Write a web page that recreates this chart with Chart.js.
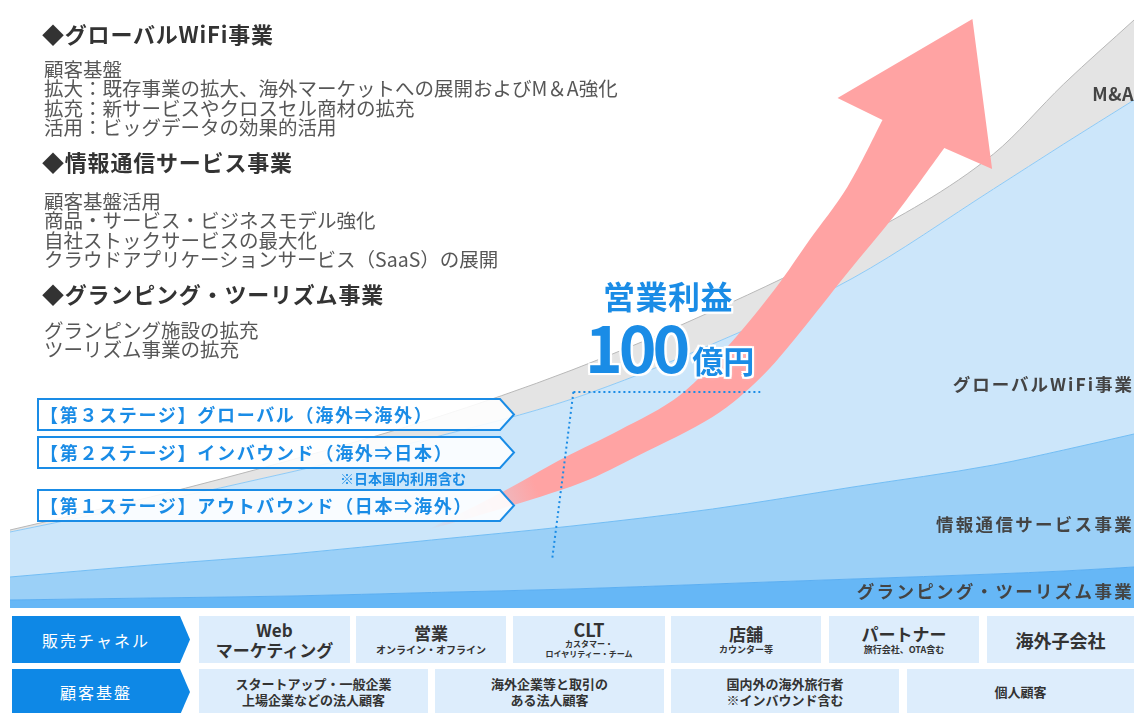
<!DOCTYPE html>
<html lang="ja">
<head>
<meta charset="utf-8">
<script src="https://cdn.jsdelivr.net/npm/chart.js@4.4.0/dist/chart.umd.min.js"></script>
<style>
  body { margin:0; width:1134px; height:713px; position:relative; overflow:hidden; background:#fff;
         font-family:"Noto Sans CJK JP","Noto Sans",sans-serif; }
  #chart-wrap { position:absolute; left:10px; top:0; width:1124px; height:608px; }
  .abs { position:absolute; white-space:nowrap; }
  .head { font-size:22px; font-weight:bold; color:#333; letter-spacing:0.8px; line-height:24px; left:42px; }
  .txt { font-size:19.5px; color:#575757; line-height:19.3px; left:44px; }
  .lab { font-size:17.5px; font-weight:bold; color:#444; letter-spacing:2.3px; line-height:20px; right:0; }
  .stage { left:37px; width:480px; height:33px; }
  .stage svg { position:absolute; left:0; top:0; }
  .stage span { position:absolute; left:3px; top:0; line-height:33px; font-size:18px; font-weight:bold;
                color:#1a8ce6; letter-spacing:1.7px; }
  .halo { text-shadow: 2px 0 0 #fff, -2px 0 0 #fff, 0 2px 0 #fff, 0 -2px 0 #fff,
          2px 2px 0 #fff, -2px -2px 0 #fff, 2px -2px 0 #fff, -2px 2px 0 #fff, 0 0 4px #fff; }
  .hdr { position:absolute; left:12px; width:180px; background:#0e88e6; color:#fff; font-size:16px;
         letter-spacing:2px; display:flex; align-items:center; justify-content:center; padding-right:12px;
         box-sizing:border-box; clip-path:polygon(0 0, 168px 0, 178px 50%, 168px 100%, 0 100%); }
  .cell { position:absolute; background:#ddedfc; color:#333; font-weight:bold; display:flex;
          flex-direction:column; align-items:center; justify-content:center; text-align:center; }
  .m { font-size:17px; line-height:20px; }
  .s { font-size:9px; line-height:11px; }
  .r2 { font-size:13px; line-height:16px; }
</style>
</head>
<body>
<div id="chart-wrap"><canvas id="growth"></canvas></div>

<!-- left side texts -->
<div class="abs head" style="top:21px">◆グローバルWiFi事業</div>
<div class="abs txt" style="top:59px">顧客基盤<br>拡大：既存事業の拡大、海外マーケットへの展開およびM＆A強化<br>拡充：新サービスやクロスセル商材の拡充<br>活用：ビッグデータの効果的活用</div>
<div class="abs head" style="top:149px">◆情報通信サービス事業</div>
<div class="abs txt" style="top:191px">顧客基盤活用<br>商品・サービス・ビジネスモデル強化<br>自社ストックサービスの最大化<br>クラウドアプリケーションサービス（SaaS）の展開</div>
<div class="abs head" style="top:281px">◆グランピング・ツーリズム事業</div>
<div class="abs txt" style="top:320px">グランピング施設の拡充<br>ツーリズム事業の拡充</div>

<!-- stage boxes -->
<div class="abs stage" style="top:398px"><svg width="480" height="33"><polygon points="1,1 463,1 477,16.5 463,32 1,32" fill="rgba(255,255,255,0.88)" stroke="#1a8ce6" stroke-width="2"/></svg><span>【第３ステージ】グローバル（海外⇒海外）</span></div>
<div class="abs stage" style="top:436px"><svg width="480" height="33"><polygon points="1,1 463,1 477,16.5 463,32 1,32" fill="rgba(255,255,255,0.88)" stroke="#1a8ce6" stroke-width="2"/></svg><span>【第２ステージ】インバウンド（海外⇒日本）</span></div>
<div class="abs" style="left:340px;top:469px;font-size:14px;font-weight:bold;color:#1a8ce6;line-height:18px">※日本国内利用含む</div>
<div class="abs stage" style="top:489px"><svg width="480" height="33"><polygon points="1,1 463,1 477,16.5 463,32 1,32" fill="rgba(255,255,255,0.88)" stroke="#1a8ce6" stroke-width="2"/></svg><span>【第１ステージ】アウトバウンド（日本⇒海外）</span></div>

<!-- profit target -->
<div class="abs halo" style="left:603px;top:278px;font-size:32px;font-weight:bold;color:#1a8ce6;line-height:34px;letter-spacing:0.5px">営業利益</div>
<div class="abs halo" style="left:585px;top:313px;line-height:64px;color:#1a8ce6;font-weight:bold"><span style="font-size:64px;letter-spacing:-4px">100</span><span style="font-size:31px;margin-left:6px">億円</span></div>

<!-- right labels -->
<div class="abs lab" style="top:83px;font-size:18px;letter-spacing:0.5px">M&amp;A</div>
<div class="abs lab" style="top:374px;letter-spacing:2px">グローバルWiFi事業</div>
<div class="abs lab" style="top:514px">情報通信サービス事業</div>
<div class="abs lab" style="top:581px">グランピング・ツーリズム事業</div>

<!-- bottom table -->
<div class="hdr" style="top:616px;height:47px">販売チャネル</div>
<div class="cell" style="left:199px;top:616px;width:151px;height:47px"><div class="m">Web</div><div class="m">マーケティング</div></div>
<div class="cell" style="left:356px;top:616px;width:150px;height:47px"><div class="m">営業</div><div style="font-size:10px;line-height:13px">オンライン・オフライン</div></div>
<div class="cell" style="left:513px;top:616px;width:152px;height:47px"><div class="m" style="font-size:18px;line-height:19px">CLT</div><div style="font-size:8px;line-height:10px">カスタマー・<br>ロイヤリティー・チーム</div></div>
<div class="cell" style="left:671px;top:616px;width:150px;height:47px"><div class="m">店舗</div><div class="s">カウンター等</div></div>
<div class="cell" style="left:829px;top:616px;width:150px;height:47px"><div class="m">パートナー</div><div class="s">旅行会社、OTA含む</div></div>
<div class="cell" style="left:987px;top:616px;width:147px;height:47px"><div class="m" style="font-size:18px">海外子会社</div></div>

<div class="hdr" style="top:669px;height:46px">顧客基盤</div>
<div class="cell" style="left:199px;top:669px;width:229px;height:46px"><div class="r2">スタートアップ・一般企業<br>上場企業などの法人顧客</div></div>
<div class="cell" style="left:435px;top:669px;width:229px;height:46px"><div class="r2">海外企業等と取引の<br>ある法人顧客</div></div>
<div class="cell" style="left:671px;top:669px;width:228px;height:46px"><div class="r2">国内外の海外旅行者<br>※インバウンド含む</div></div>
<div class="cell" style="left:907px;top:669px;width:227px;height:46px"><div class="r2">個人顧客</div></div>

<script>
// --- DATA (stacked layer thickness per step) ---
const steps = [0, 1, 2, 3, 4, 5, 6, 7, 7.5, 8];
const glamping = [8, 10, 12, 15.5, 19, 24, 29, 34, 37, 41];
const ictService = [23, 33, 42, 52.5, 63, 75, 92, 109, 121, 133];
const globalWifi = [45, 62, 82, 102, 127, 165, 209, 276, 306, 334];
const mAndA = [2, 6, 12, 19, 29, 33, 36, 35, 60, 80];
const seriesNames = ['グランピング・ツーリズム事業', '情報通信サービス事業', 'グローバルWiFi事業', 'M&A'];

// growth arrow outline, in step / value units
const arrowOutline = [
  [2.97, 78], [3.49, 99], [4.06, 125], [4.48, 153], [5.00, 191], [5.34, 230], [5.62, 275],
  [5.96, 335], [6.31, 395], [6.65, 460]
];
const arrowHead = [[6.99, 439], [6.85, 589], [5.89, 510], [6.21, 488]];
const arrowBack = [
  [6.21, 488], [5.96, 421], [5.69, 368], [5.45, 320], [5.13, 265], [4.77, 213], [4.34, 178],
  [3.94, 150], [3.49, 115], [2.97, 78]
];
// target guide (dotted)
const guideH = [[4.01, 216], [5.34, 216]];
const guideV = [[4.01, 216], [3.86, 50]];

const toPts = arr => steps.map((x, i) => ({ x: x, y: arr[i] }));

function smoothThrough(ctx, pts) {
  for (let i = 0; i < pts.length - 1; i++) {
    const p0 = pts[Math.max(i - 1, 0)], p1 = pts[i], p2 = pts[i + 1], p3 = pts[Math.min(i + 2, pts.length - 1)];
    ctx.bezierCurveTo(p1[0] + (p2[0] - p0[0]) / 6, p1[1] + (p2[1] - p0[1]) / 6,
                      p2[0] - (p3[0] - p1[0]) / 6, p2[1] - (p3[1] - p1[1]) / 6, p2[0], p2[1]);
  }
}

const arrowPlugin = {
  id: 'growthArrow',
  afterDatasetsDraw(chart) {
    const { ctx, scales: { x, y } } = chart;
    const px = p => [x.getPixelForValue(p[0]), y.getPixelForValue(p[1])];
    const low = arrowOutline.map(px), head = arrowHead.map(px), back = arrowBack.map(px);
    ctx.save();
    const g = ctx.createLinearGradient(low[0][0], low[0][1], low[0][0] + 110, low[0][1] - 40);
    g.addColorStop(0, 'rgba(255,163,163,0)');
    g.addColorStop(1, 'rgba(255,163,163,1)');
    ctx.fillStyle = g;
    ctx.beginPath();
    ctx.moveTo(low[0][0], low[0][1]);
    smoothThrough(ctx, low);
    head.forEach(p => ctx.lineTo(p[0], p[1]));
    smoothThrough(ctx, back);
    ctx.closePath();
    ctx.fill();

    // dotted guide lines
    ctx.strokeStyle = '#1a8ce6';
    ctx.lineWidth = 2;
    ctx.setLineDash([2, 3]);
    [guideH, guideV].forEach(seg => {
      const a = px(seg[0]), b = px(seg[1]);
      ctx.beginPath();
      ctx.moveTo(a[0], a[1]);
      ctx.lineTo(b[0], b[1]);
      ctx.stroke();
    });
    ctx.restore();
  }
};

new Chart(document.getElementById('growth'), {
  type: 'line',
  data: {
    datasets: [
      { label: seriesNames[0], data: toPts(glamping), fill: 'origin', backgroundColor: '#66b7f6', borderColor: '#5caff2', borderWidth: 1 },
      { label: seriesNames[1], data: toPts(ictService), fill: '-1', backgroundColor: '#9bd0f7', borderColor: '#72bdf4', borderWidth: 1 },
      { label: seriesNames[2], data: toPts(globalWifi), fill: '-1', backgroundColor: '#cce6fa', borderColor: '#8ecaf6', borderWidth: 1 },
      { label: seriesNames[3], data: toPts(mAndA), fill: '-1', backgroundColor: '#e4e4e4', borderColor: '#b8b8b8', borderWidth: 1 }
    ]
  },
  options: {
    responsive: true,
    maintainAspectRatio: false,
    animation: false,
    layout: { padding: 0, autoPadding: false },
    plugins: { legend: { display: false }, tooltip: { enabled: false } },
    elements: { point: { radius: 0 }, line: { cubicInterpolationMode: 'monotone' } },
    scales: {
      x: { type: 'linear', min: 0, max: 8, display: false },
      y: { stacked: true, min: 0, max: 608, display: false }
    }
  },
  plugins: [arrowPlugin]
});
</script>
</body>
</html>
